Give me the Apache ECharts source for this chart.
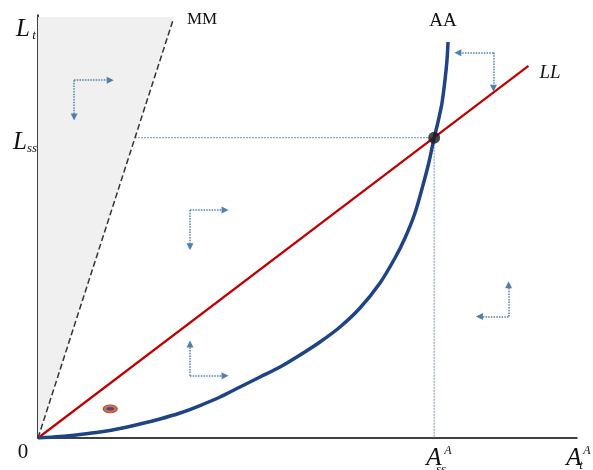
<!DOCTYPE html>
<html><head><meta charset="utf-8">
<script src="https://cdn.jsdelivr.net/npm/echarts@6/dist/echarts.min.js"></script>
<style>html,body{margin:0;padding:0;background:#fff}#c{width:593px;height:470px}</style>
</head><body><div id="c"></div>
<script>
// Data (arbitrary units: x 0..100, y 0..100)
const aaX = [0,4.08,7.79,11.50,15.21,18.92,22.63,26.35,30.06,33.77,37.48,41.19,44.90,48.61,52.32,56.03,59.74,63.45,66.23,68.09,69.94,71.43,72.54,73.50,74.21,74.95,75.51,75.88,76.07];
const aaY = [0,0.35,0.83,1.42,2.25,3.31,4.49,5.91,7.68,9.69,12.06,14.42,16.78,19.62,22.70,26.24,30.73,36.64,42.55,47.28,53.19,59.81,65.25,71.0,74.70,79.20,84.63,89.36,93.62];
const llLine = [[0,0],[91.0,88.0]];
const mmLine = [[0,0],[25.0,98.6]];
const greyRegion = [[0,0],[0,99.5],[25.2,99.5]];
const steadyState = [73.5, 71.0];
const lssGuide = [[18.0,71.0],[73.5,71.0]];
const assGuide = [[73.5,71.0],[73.5,0]];
const marker = [13.4, 6.9];
// arrow pairs: [start corner, tip]
const arrows = [
  [[6.7,84.6],[13.4,84.6]], [[6.7,84.6],[6.7,75.9]],
  [[28.2,53.9],[34.7,53.9]], [[28.2,53.9],[28.2,45.2]],
  [[28.2,14.7],[28.2,22.2]], [[28.2,14.7],[34.7,14.7]],
  [[87.3,28.7],[87.3,36.2]], [[87.3,28.7],[81.9,28.7]],
  [[84.5,91.1],[77.9,91.1]], [[84.5,91.1],[84.5,82.7]]
];
const aaCurve = aaX.map((x,i)=>[x, aaY[i]]);

const chart = echarts.init(document.getElementById('c'), null, {renderer:'canvas'});
const serif = '"Liberation Serif","DejaVu Serif",serif';
const axisCommon = {
  type:'value', min:0, max:100,
  axisLine:{show:true, lineStyle:{color:'#000', width:1.5}},
  axisTick:{show:false}, axisLabel:{show:false}, splitLine:{show:false}
};
function txt(x,y,t,size,italic,align){
  return {type:'text', x:x, y:y, z:100, style:{text:t, font:(italic?'italic ':'')+size+'px '+serif, fill:'#111', textAlign:align||'center', textVerticalAlign:'middle'}};
}
chart.setOption({
  animation:false,
  grid:{left:38, top:15, right:16, bottom:32},
  xAxis:axisCommon,
  yAxis:axisCommon,
  series:[
    {type:'custom', z:1, renderItem:function(params, api){
      const pts = greyRegion.map(p=>api.coord(p));
      return {type:'polygon', shape:{points:pts}, style:{fill:'#f0f0f0'}};
    }, data:[0]},
    {type:'line', z:3, data:mmLine, symbol:'none', lineStyle:{color:'#333', width:1.5, type:[6,3]}},
    {type:'line', z:2, data:lssGuide, symbol:'none', lineStyle:{color:'#8fa9c4', width:1.2, type:[2,1]}},
    {type:'line', z:2, data:assGuide, symbol:'none', lineStyle:{color:'#8fa9c4', width:1.2, type:[2,1]}},
    {type:'line', z:4, data:llLine, symbol:'none', lineStyle:{color:'#c00000', width:2.2}},
    {type:'line', z:5, data:aaCurve, symbol:'none', smooth:0.3, lineStyle:{color:'#1f4485', width:3.5}},
    {type:'scatter', z:6, data:[steadyState], symbol:'circle', symbolSize:12, itemStyle:{color:'#1a1a1a'}},
    {type:'scatter', z:6, data:[marker], symbol:'circle', symbolSize:[14,8], itemStyle:{color:'#c4502a', borderColor:'#a83a1a', borderWidth:1}},
    {type:'scatter', z:7, data:[marker], symbol:'circle', symbolSize:[8,3.5], itemStyle:{color:'#2a3c9a'}},
    {type:'lines', coordinateSystem:'cartesian2d', z:8,
     data:arrows.map(a=>({coords:a})),
     symbol:['none','triangle'], symbolSize:7,
     lineStyle:{color:'#4f80b0', width:1.5, type:[1.5,1.2], opacity:1},
     effect:{show:false}}
  ],
  graphic:[
    txt(23,29,'L',25,true), txt(34,36,'t',13,true),
    txt(20,142,'L',25,true), txt(32,149,'ss',13,true),
    txt(23,452,'0',21,false),
    txt(434,458,'A',25,true), txt(448,451,'A',12,true), txt(441,470,'ss',13,true),
    txt(574,458,'A',25,true), txt(587,451,'A',12,true), txt(581,466,'t',13,true),
    txt(443,21,'AA',19,false),
    txt(550,73,'LL',19,true),
    txt(187,20,'MM',17,false,'left')
  ]
});
</script></body></html>
